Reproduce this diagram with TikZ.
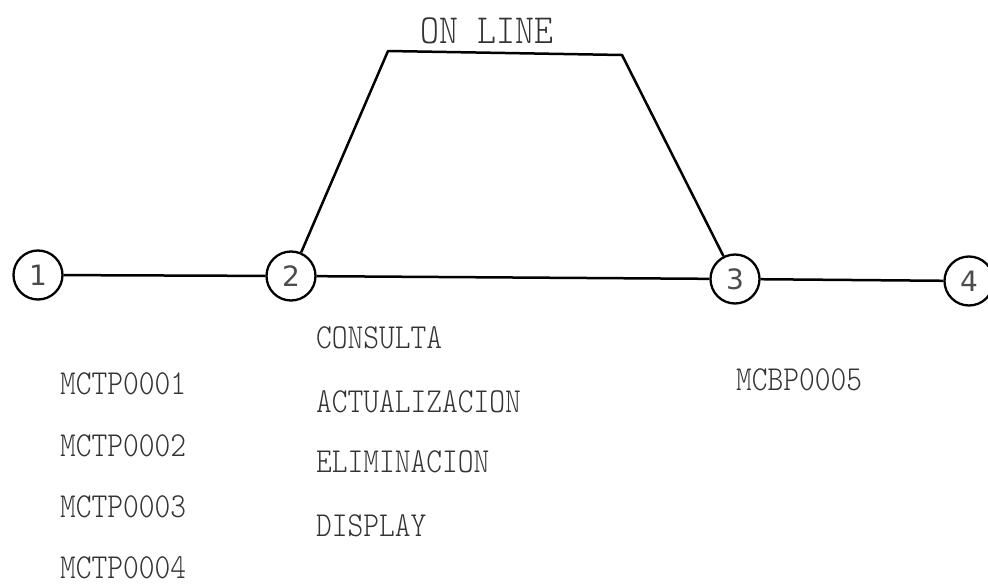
\documentclass[tikz,border=0pt]{standalone}
\usepackage{fontspec}
\setmonofont{Latin Modern Mono Light}
\setsansfont{DejaVu Sans}
\begin{document}
\begin{tikzpicture}[x=1pt,y=-1pt,
  circ/.style={circle,draw=black,line width=2.3pt,minimum size=49pt,inner sep=0pt,
    font=\sffamily\fontsize{28}{28}\selectfont\color{black!70}},
  conn/.style={draw=black,line width=2.5pt,line join=round},
  lbl/.style={anchor=west,inner sep=0pt,text=black!80,
    font=\ttfamily\fontsize{30}{30}\selectfont},
  big/.style={anchor=center,inner sep=0pt,text=black!80,
    font=\ttfamily\fontsize{36}{36}\selectfont}]
\useasboundingbox[fill=white] (0,0) rectangle (988,586);
\node[circ] (n1) at (38,275) {1};
\node[circ] (n2) at (291,276) {2};
\node[circ] (n3) at (735,279) {3};
\node[circ] (n4) at (969,281) {4};
\coordinate (tl) at (388,51);
\coordinate (tr) at (622,55);
\draw[conn] (n1) -- (n2);
\draw[conn] (n2) -- (n3);
\draw[conn] (n3) -- (n4);
\draw[conn] (n2) -- (tl) -- (tr) -- (n3);
\node[big] (online) at (487,31) {\scalebox{1}[1.15]{ON LINE}};
\node[lbl] (consulta) at (316,338) {\scalebox{1}[1.17]{CONSULTA}};
\node[lbl] (actual) at (316,402) {\scalebox{1}[1.17]{ACTUALIZACION}};
\node[lbl] (elim) at (316,462) {\scalebox{1}[1.17]{ELIMINACION}};
\node[lbl] (display) at (316,526) {\scalebox{1}[1.17]{DISPLAY}};
\node[lbl] (m1) at (60,384) {\scalebox{1}[1.17]{MCTP0001}};
\node[lbl] (m2) at (60,446) {\scalebox{1}[1.17]{MCTP0002}};
\node[lbl] (m3) at (60,507) {\scalebox{1}[1.17]{MCTP0003}};
\node[lbl] (m4) at (60,568) {\scalebox{1}[1.17]{MCTP0004}};
\node[lbl] (m5) at (736,380) {\scalebox{1}[1.17]{MCBP0005}};
\end{tikzpicture}
\end{document}
